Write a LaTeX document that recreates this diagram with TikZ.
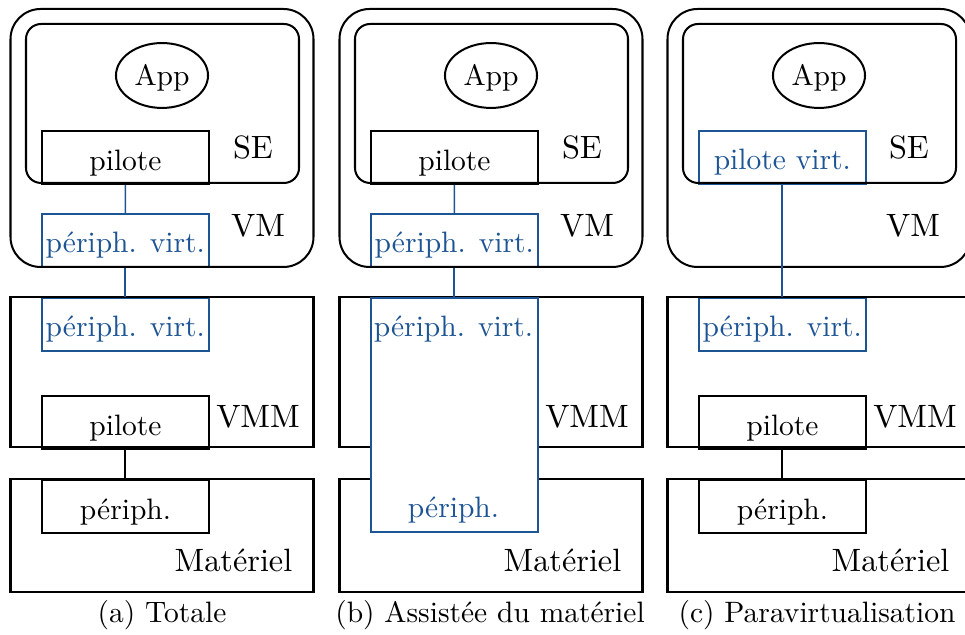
\documentclass[tikz,border=0pt]{standalone}
\usepackage{fontspec}
\usetikzlibrary{shapes.geometric}

\definecolor{virt}{RGB}{28,84,148}

\tikzset{
  box/.style={draw, fill=white, line width=0.68pt, anchor=north west, inner sep=0pt,
    minimum width=56.6pt, minimum height=18pt, text height=13.2pt, text depth=4.75pt},
  vbox/.style={box, draw=virt, text=virt, line width=0.55pt},
  app/.style={draw, ellipse, line width=0.68pt, inner sep=0pt, minimum width=31.2pt,
    minimum height=22pt, text height=6.8pt, text depth=0pt},
  vline/.style={draw=virt, line width=0.55pt},
  hline/.style={line width=0.68pt},
  lbl/.style={anchor=base},
  layer/.style={lbl, font=\fontsize{10.95}{13.6}\selectfont},
}

\begin{document}
\begin{tikzpicture}[x=0.339pt, y=-0.339pt]
    \useasboundingbox (0,0) rectangle (965,635);
    \clip (0,0) rectangle (965,635);

    % (a) Totale
    \begin{scope}
        \node[box] (piloteA) at (41,130) {pilote};
        \node[vbox] (vvdevA) at (41,213) {périph. virt.};
        \node[app] (appA) at (162,75.5) {App};
        \draw[hline, rounded corners=5.1pt] (26,24) rectangle (299,183);
        \draw[hline, rounded corners=10.2pt] (10.5,9) rectangle (313.5,267);
        \node[layer] (seA) at (253,159) {SE};
        \node[layer] (vmA) at (258,237) {VM};

        \node[vbox] (hvdevA) at (41,297) {périph. virt.};
        \node[box] (hpiloteA) at (41,395) {pilote};
        \draw[hline] (10.5,297) rectangle (313.5,447);
        \node[layer] (vmmA) at (258,428) {VMM};

        \node[box] (devA) at (41,479) {périph.};
        \draw[hline] (10.5,479) rectangle (313.5,592);
        \node[layer] (hwA) at (233.5,572) {Matériel};

        \draw[vline] (piloteA) -- (vvdevA);
        \draw[vline] (vvdevA) -- (hvdevA);
        \draw[hline] (hpiloteA) -- (devA);

        \node[lbl] (capA) at (162,623) {(a) Totale};
    \end{scope}

    % (b) Assistee du materiel
    \begin{scope}[shift={(329,0)}]
        \node[box] (piloteB) at (41,130) {pilote};
        \node[vbox] (vvdevB) at (41,213) {périph. virt.};
        \node[app] (appB) at (162,75.5) {App};
        \draw[hline, rounded corners=5.1pt] (26,24) rectangle (299,183);
        \draw[hline, rounded corners=10.2pt] (10.5,9) rectangle (313.5,267);
        \node[layer] (seB) at (253,159) {SE};
        \node[layer] (vmB) at (258,237) {VM};

        \draw[hline] (10.5,297) rectangle (313.5,447);
        \node[layer] (vmmB) at (258,428) {VMM};
        \draw[hline] (10.5,479) rectangle (313.5,592);
        \node[layer] (hwB) at (233.5,572) {Matériel};

        % device shared through the VMM
        \node[vbox, minimum height=79.3pt] (devB) at (41,297) {};
        \node[lbl, text=virt] (vtextB) at (124.5,337) {périph. virt.};
        \node[lbl, text=virt] (ptextB) at (124.5,518) {périph.};

        \draw[vline] (piloteB) -- (vvdevB);
        \draw[vline] (vvdevB) -- (devB);

        \node[lbl] (capB) at (161,623) {(b) Assistée du matériel};
    \end{scope}

    % (c) Paravirtualisation
    \begin{scope}[shift={(657,0)}]
        \node[vbox] (vpiloteC) at (41,130) {pilote virt.};
        \node[app] (appC) at (162,75.5) {App};
        \draw[hline, rounded corners=5.1pt] (26,24) rectangle (299,183);
        \draw[hline, rounded corners=10.2pt] (10.5,9) rectangle (313.5,267);
        \node[layer] (seC) at (252,159) {SE};
        \node[layer] (vmC) at (256,237) {VM};

        \node[vbox] (hvdevC) at (41,297) {périph. virt.};
        \node[box] (hpiloteC) at (41,395) {pilote};
        \draw[hline] (10.5,297) rectangle (313.5,447);
        \node[layer] (vmmC) at (258,428) {VMM};

        \node[box] (devC) at (41,479) {périph.};
        \draw[hline] (10.5,479) rectangle (313.5,592);
        \node[layer] (hwC) at (233.5,572) {Matériel};

        \draw[vline] (vpiloteC) -- (hvdevC);
        \draw[hline] (hpiloteC) -- (devC);

        \node[lbl] (capC) at (160,623) {(c) Paravirtualisation};
    \end{scope}
\end{tikzpicture}
\end{document}
